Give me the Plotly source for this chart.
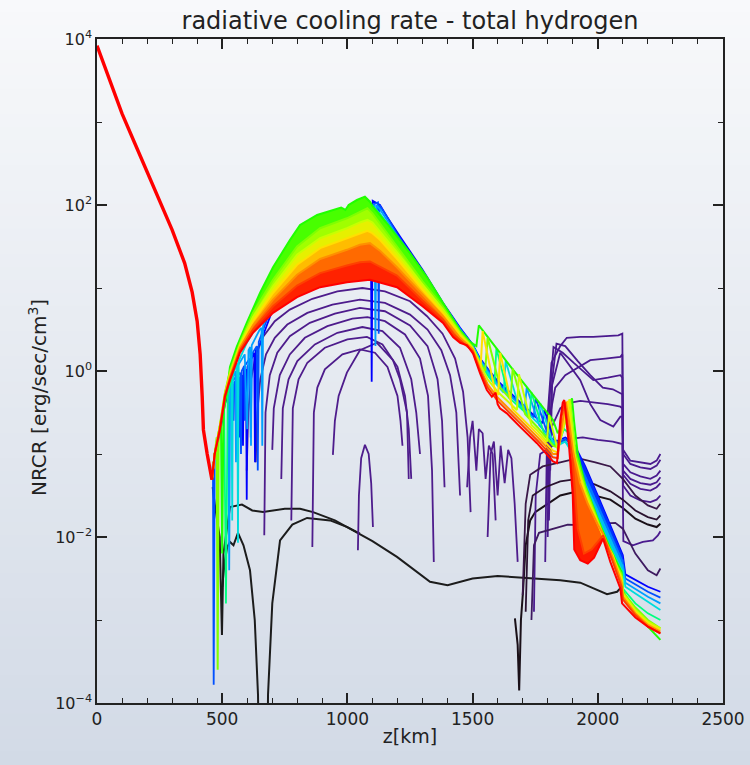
import numpy as np
import plotly.graph_objects as go

# ---------------------------------------------------------------------------
# NRCR profiles, stored as (height z [km], log10 NRCR [erg/sec/cm^3]) pairs
# ---------------------------------------------------------------------------

# steep decline that every snapshot shares below the temperature minimum
shared_z = [0, 50, 100, 150, 200, 250, 300, 350, 380, 400, 412, 420, 425, 440, 452, 459]
shared_lg = [3.92, 3.5, 3.1, 2.75, 2.4, 2.05, 1.7, 1.3, 0.95, 0.6, 0.2, -0.3, -0.71, -1.0, -1.2, -1.31]

# rainbow-coloured snapshots (blue = early, red = late)
snap00_z = [459, 470, 491, 511, 531, 542, 545, 548, 560, 565, 568, 571, 580, 583, 586, 595, 598, 601, 628, 631,
            634, 650, 703, 799, 891, 998, 1050, 1080, 1093, 1097, 1101, 1130, 1158, 1210, 1300, 1382, 1450, 1500,
            1530, 1560, 1600, 1650, 1700, 1778, 1786, 1830, 1840, 1870, 1900, 1950, 2000, 2050, 2100, 2110, 2150,
            2200, 2250]
snap00_lg = [-1.31, -1.0, -0.75, -0.4, -0.2, -0.16, -0.6, -0.14, -0.1, -0.09, -0.8, -0.08, -0.05, -0.9, 0.0, 0.02,
             -1.55, 0.05, 0.22, -1.1, 0.25, 0.32, 0.75, 1.15, 1.4, 1.55, 1.62, 1.8, 2.02, -0.13, 2.05, 2.0, 1.86,
             1.62, 1.22, 0.82, 0.52, 0.32, 0.15, 0.03, -0.12, -0.26, -0.4, -0.63, -0.47, -0.84, -0.84, -0.8, -0.85,
             -1.15, -1.5, -1.85, -2.22, -2.45, -2.52, -2.6, -2.66]

snap01_z = [459, 463, 466, 470, 491, 511, 531, 560, 572, 575, 578, 588, 590, 592, 600, 610, 614, 618, 638, 642, 646,
            703, 799, 891, 998, 1050, 1080, 1100, 1122, 1125, 1128, 1160, 1198, 1300, 1382, 1450, 1500, 1530, 1560,
            1600, 1650, 1700, 1744, 1752, 1802, 1821, 1840, 1870, 1900, 1950, 2000, 2050, 2100, 2110, 2150, 2200,
            2250]
snap01_lg = [-1.31, -1.1, -3.78, -1.0, -0.72, -0.35, -0.15, -0.05, -0.02, -1.0, 0.0, 0.06, -0.6, 0.07, 0.1, 0.15,
             -0.8, 0.2, 0.3, -1.2, 0.35, 0.82, 1.22, 1.45, 1.58, 1.66, 1.78, 2.0, 2.03, 0.45, 2.0, 1.85, 1.65, 1.2,
             0.81, 0.51, 0.32, 0.14, 0.02, -0.14, -0.28, -0.42, -0.56, -0.33, -0.78, -0.82, -0.86, -0.82, -0.9,
             -1.24, -1.58, -1.93, -2.28, -2.5, -2.57, -2.66, -2.73]

snap02_z = [459, 470, 491, 511, 524, 528, 532, 552, 555, 558, 560, 590, 600, 605, 612, 615, 618, 650, 657, 660, 663,
            703, 799, 891, 998, 1050, 1080, 1100, 1108, 1112, 1116, 1130, 1198, 1300, 1382, 1450, 1500, 1530, 1560,
            1600, 1650, 1708, 1716, 1766, 1821, 1840, 1870, 1900, 1950, 2000, 2050, 2100, 2110, 2150, 2200, 2250]
snap02_lg = [-1.31, -1.0, -0.7, -0.33, -0.2, -2.4, -0.15, 0.0, -1.1, 0.04, 0.05, 0.2, -0.7, 0.25, 0.29, -0.9, 0.31,
             0.5, 0.52, -0.9, 0.54, 0.9, 1.28, 1.5, 1.63, 1.7, 1.8, 1.98, 2.0, 0.3, 2.0, 1.95, 1.63, 1.18, 0.8, 0.5,
             0.31, 0.13, 0.0, -0.16, -0.3, -0.46, -0.2, -0.65, -0.84, -0.88, -0.85, -0.95, -1.33, -1.66, -2.01,
             -2.34, -2.55, -2.63, -2.72, -2.8]

snap03_z = [459, 470, 491, 511, 530, 537, 540, 543, 560, 563, 566, 600, 650, 703, 799, 891, 998, 1050, 1080, 1095,
            1100, 1130, 1198, 1300, 1382, 1450, 1500, 1530, 1560, 1600, 1624, 1632, 1682, 1700, 1762, 1770, 1820,
            1840, 1870, 1900, 1950, 2000, 2050, 2100, 2110, 2150, 2200, 2250]
snap03_lg = [-1.31, -1.0, -0.69, -0.31, -0.12, -0.1, -1.8, -0.05, 0.1, -2.07, 0.12, 0.35, 0.6, 0.95, 1.33, 1.55,
             1.68, 1.74, 1.82, 1.95, 1.98, 1.9, 1.61, 1.15, 0.8, 0.49, 0.3, 0.12, -0.02, -0.18, -0.26, 0.12, -0.4,
             -0.45, -0.63, -0.39, -0.86, -0.9, -0.85, -1.0, -1.42, -1.74, -2.09, -2.4, -2.6, -2.68, -2.78, -2.88]

snap04_z = [459, 470, 491, 508, 515, 522, 540, 571, 623, 703, 799, 891, 998, 1050, 1080, 1100, 1130, 1198, 1300,
            1382, 1450, 1500, 1530, 1560, 1587, 1595, 1645, 1700, 1727, 1735, 1785, 1821, 1840, 1865, 1885, 1900,
            1950, 2000, 2050, 2095, 2100, 2150, 2200, 2250]
snap04_lg = [-1.31, -1.0, -0.68, -0.45, -2.8, -0.3, -0.05, 0.3, 0.62, 1.0, 1.38, 1.6, 1.73, 1.8, 1.86, 1.92, 1.86,
             1.58, 1.12, 0.79, 0.48, 0.3, 0.1, -0.05, -0.16, 0.27, -0.32, -0.47, -0.56, -0.26, -0.75, -0.88, -0.9,
             -0.7, -0.75, -1.0, -1.45, -1.8, -2.12, -2.42, -2.62, -2.8, -2.92, -3.0]

snap05_z = [459, 470, 485, 495, 500, 505, 518, 531, 558, 598, 651, 703, 771, 811, 879, 942, 975, 992, 1005, 1038,
            1070, 1090, 1102, 1158, 1210, 1250, 1318, 1382, 1450, 1490, 1515, 1525, 1560, 1600, 1650, 1700, 1760,
            1821, 1840, 1870, 1897, 1905, 1920, 1950, 2000, 2050, 2095, 2100, 2150, 2200, 2250]
snap05_lg = [-1.31, -1.0, -0.75, -0.6, -2.2, -0.5, -0.27, 0.05, 0.29, 0.58, 0.94, 1.25, 1.58, 1.76, 1.88, 1.94,
             1.97, 1.94, 2.0, 2.06, 2.1, 2.04, 1.98, 1.78, 1.58, 1.42, 1.13, 0.82, 0.49, 0.35, 0.3, 0.55, 0.41,
             0.25, 0.06, -0.13, -0.36, -0.59, -0.75, -0.6, -0.33, -0.6, -1.0, -1.38, -1.78, -2.15, -2.42, -2.65,
             -2.9, -3.08, -3.24]

snap06_z = [459, 470, 478, 482, 486, 491, 511, 531, 571, 623, 703, 799, 891, 998, 1050, 1080, 1100, 1130, 1198,
            1300, 1382, 1450, 1500, 1530, 1550, 1560, 1610, 1652, 1660, 1710, 1760, 1821, 1840, 1870, 1890, 1898,
            1912, 1950, 2000, 2050, 2095, 2100, 2150, 2200, 2250]
snap06_lg = [-1.31, -1.0, -0.8, -3.6, -0.75, -0.65, -0.26, 0.0, 0.34, 0.7, 1.1, 1.5, 1.72, 1.84, 1.92, 1.96, 1.9,
             1.78, 1.5, 1.08, 0.77, 0.47, 0.29, 0.1, 0.0, 0.4, -0.2, -0.34, 0.03, -0.52, -0.68, -0.9, -0.92, -0.6,
             -0.34, -0.6, -1.0, -1.4, -1.8, -2.2, -2.45, -2.66, -2.85, -3.0, -3.1]

snap07_z = [459, 470, 491, 511, 531, 571, 623, 703, 799, 891, 998, 1050, 1080, 1100, 1130, 1198, 1300, 1382, 1450,
            1500, 1530, 1560, 1600, 1650, 1677, 1685, 1735, 1760, 1797, 1805, 1840, 1870, 1887, 1895, 1910, 1950,
            2000, 2050, 2095, 2100, 2150, 2200, 2250]
snap07_lg = [-1.31, -1.0, -0.66, -0.27, -0.03, 0.32, 0.65, 1.02, 1.4, 1.6, 1.72, 1.79, 1.82, 1.79, 1.68, 1.43,
             1.04, 0.74, 0.45, 0.28, 0.08, -0.1, -0.25, -0.4, -0.47, -0.04, -0.65, -0.72, -0.85, -0.53, -0.95,
             -0.6, -0.34, -0.6, -1.05, -1.45, -1.82, -2.22, -2.48, -2.68, -2.88, -3.02, -3.1]

snap08_z = [459, 470, 491, 511, 531, 571, 623, 703, 799, 891, 998, 1050, 1080, 1100, 1130, 1198, 1300, 1382, 1450,
            1500, 1532, 1540, 1590, 1602, 1610, 1660, 1700, 1760, 1821, 1840, 1865, 1880, 1890, 1905, 1950, 2000,
            2030, 2060, 2095, 2100, 2150, 2200, 2250]
snap08_lg = [-1.31, -1.0, -0.67, -0.28, -0.05, 0.3, 0.6, 0.94, 1.28, 1.48, 1.6, 1.66, 1.69, 1.66, 1.58, 1.35,
             0.98, 0.7, 0.43, 0.27, 0.05, 0.48, -0.25, -0.29, 0.22, -0.46, -0.58, -0.76, -0.96, -0.98, -0.6, -0.36,
             -0.6, -1.0, -1.5, -1.85, -2.05, -2.22, -2.52, -2.7, -2.9, -3.04, -3.12]

snap09_z = [459, 470, 491, 511, 531, 571, 623, 703, 799, 891, 998, 1050, 1090, 1130, 1198, 1300, 1382, 1450, 1500,
            1530, 1560, 1600, 1650, 1700, 1760, 1821, 1840, 1860, 1872, 1885, 1900, 1929, 1960, 2000, 2021, 2060,
            2095, 2100, 2150, 2200, 2250]
snap09_lg = [-1.31, -1.0, -0.68, -0.29, -0.07, 0.28, 0.55, 0.86, 1.16, 1.35, 1.46, 1.52, 1.54, 1.45, 1.25, 0.92,
             0.66, 0.4, 0.26, 0.03, -0.16, -0.32, -0.47, -0.62, -0.8, -1.0, -1.0, -0.6, -0.37, -0.6, -0.95, -1.35,
             -1.6, -1.85, -1.96, -2.25, -2.55, -2.72, -2.92, -3.06, -3.14]

snap10_z = [459, 470, 491, 511, 531, 571, 623, 703, 799, 891, 998, 1050, 1090, 1198, 1300, 1382, 1422, 1450, 1500,
            1530, 1560, 1600, 1640, 1700, 1760, 1821, 1840, 1855, 1868, 1878, 1900, 1920, 1945, 1975, 2021, 2060,
            2095, 2100, 2150, 2200, 2250]
snap10_lg = [-1.31, -1.0, -0.69, -0.3, -0.09, 0.25, 0.5, 0.78, 1.03, 1.18, 1.27, 1.31, 1.32, 1.15, 0.85, 0.62,
             0.45, 0.37, 0.24, 0.0, -0.2, -0.36, -0.48, -0.66, -0.84, -1.04, -1.05, -0.55, -0.38, -0.6, -1.1, -1.9,
             -2.2, -2.15, -1.98, -2.3, -2.6, -2.75, -2.94, -3.08, -3.16]

snap11_z = [459, 470, 491, 511, 531, 571, 623, 703, 799, 891, 998, 1090, 1198, 1300, 1382, 1422, 1450, 1478, 1502,
            1530, 1557, 1577, 1592, 1600, 1609, 1637, 1689, 1757, 1821, 1837, 1850, 1860, 1866, 1873, 1885, 1900,
            1906, 1930, 1960, 1985, 2021, 2050, 2090, 2097, 2150, 2200, 2250]
snap11_lg = [-1.31, -1.0, -0.71, -0.31, -0.11, 0.22, 0.46, 0.70, 0.89, 1.01, 1.07, 1.10, 1.01, 0.78, 0.58, 0.41,
             0.34, 0.31, 0.21, -0.03, -0.23, -0.31, -0.26, -0.4, -0.45, -0.51, -0.67, -0.87, -1.09, -1.11, -0.6,
             -0.38, -0.35, -0.55, -0.9, -1.5, -2.15, -2.28, -2.32, -2.25, -2.02, -2.3, -2.62, -2.8, -2.97, -3.08,
             -3.16]

snap_colors = ["#0000ff", "#0050ff", "#00a0ff", "#00dcdc", "#00ff80", "#20ff00",
               "#80ff00", "#c8ff00", "#ffe000", "#ff9000", "#ff4000", "#ff0000"]

# early snapshots (black): initial atmosphere
init_a_z = [462, 470, 490, 499, 505, 520, 531, 579, 620, 663, 750, 811, 863, 950, 1022, 1100, 1198, 1330, 1400,
            1500, 1600, 1730, 1850, 1930, 1997, 2037, 2077, 2095]
init_a_lg = [-1.4, -1.6, -2.0, -3.18, -2.2, -1.85, -1.64, -1.61, -1.68, -1.70, -1.66, -1.66, -1.70, -1.8, -1.92,
             -2.05, -2.24, -2.54, -2.58, -2.5, -2.47, -2.5, -2.52, -2.55, -2.64, -2.69, -2.66, -2.6]
init_b_z = [500, 510, 520, 531, 545, 563, 585, 611, 630, 643, 648, 680, 683, 700, 731, 780, 839, 931, 1000, 1050]
init_b_lg = [-2.6, -2.3, -2.12, -2.06, -2.1, -1.95, -2.1, -2.4, -3.0, -3.9, -5.0, -5.0, -3.9, -2.8, -2.04, -1.85,
             -1.77, -1.8, -1.88, -1.96]
init_c_z = [1669, 1680, 1686, 1693, 1701, 1712, 1730, 1750, 1800, 1850, 1920, 1990, 2050, 2100, 2150, 2200, 2235, 2250]
init_c_lg = [-2.98, -3.3, -3.85, -3.0, -2.67, -2.1, -1.8, -1.7, -1.6, -1.5, -1.45, -1.5, -1.55, -1.65, -1.78, -1.85,
             -1.88, -1.84]

# early snapshots (purple): arches in the mid chromosphere
arch1_z = [598, 604, 615, 635, 665, 710, 770, 860, 960, 1060, 1150, 1250, 1318, 1380, 1430, 1462, 1480, 1492]
arch1_lg = [-1.2, -0.5, -0.1, 0.2, 0.42, 0.6, 0.74, 0.87, 0.96, 1.0, 0.96, 0.84, 0.66, 0.45, 0.15, -0.25, -0.8, -1.7]
arch2_z = [634, 640, 652, 675, 710, 760, 840, 940, 1050, 1150, 1250, 1320, 1375, 1410, 1435, 1450]
arch2_lg = [-1.1, -0.5, -0.1, 0.2, 0.4, 0.56, 0.7, 0.8, 0.86, 0.82, 0.68, 0.5, 0.25, -0.05, -0.5, -1.5]
arch3_z = [668, 673, 690, 720, 770, 850, 950, 1050, 1150, 1250, 1320, 1360, 1378, 1388]
arch3_lg = [-1.98, -0.5, -0.05, 0.22, 0.42, 0.58, 0.69, 0.76, 0.72, 0.55, 0.3, -0.1, -0.6, -1.4]
arch4_z = [700, 706, 730, 770, 830, 920, 1020, 1080, 1150, 1230, 1290, 1322, 1338, 1345]
arch4_lg = [-0.95, -0.45, -0.05, 0.2, 0.4, 0.54, 0.63, 0.65, 0.6, 0.44, 0.15, -0.3, -1.2, -2.3]
arch5_z = [736, 742, 765, 800, 870, 960, 1060, 1140, 1210, 1255, 1275, 1290]
arch5_lg = [-1.3, -0.45, -0.1, 0.12, 0.32, 0.46, 0.53, 0.48, 0.28, -0.1, -0.5, -1.0]
arch6_z = [776, 782, 805, 840, 910, 1000, 1078, 1140, 1200, 1230, 1245, 1255]
arch6_lg = [-1.8, -0.45, -0.1, 0.1, 0.28, 0.38, 0.41, 0.32, 0.05, -0.3, -0.7, -1.3]
arch7_z = [860, 866, 880, 910, 980, 1050, 1110, 1160, 1200, 1212, 1220]
arch7_lg = [-2.12, -0.5, -0.2, 0.02, 0.2, 0.26, 0.22, 0.05, -0.3, -0.6, -0.9]
arch8_z = [942, 950, 965, 998, 1050, 1118, 1182, 1210, 1238, 1245]
arch8_lg = [-1.01, -0.6, -0.3, -0.02, 0.25, 0.34, 0.13, -0.1, -0.5, -1.3]
arch9_z = [1042, 1046, 1055, 1070, 1085, 1095, 1102]
arch9_lg = [-2.16, -1.5, -1.05, -0.89, -1.0, -1.35, -1.88]
jag1_z = [1478, 1490, 1500, 1515, 1525, 1540, 1552, 1565, 1580, 1592]
jag1_lg = [-1.4, -0.8, -0.6, -1.2, -0.7, -0.75, -1.3, -0.9, -1.0, -1.8]
jag2_z = [1560, 1572, 1585, 1600, 1612, 1628, 1642, 1655, 1668, 1680]
jag2_lg = [-2.0, -1.0, -0.85, -1.5, -0.9, -1.35, -0.95, -1.05, -1.6, -2.3]

# early snapshots (purple): upper chromosphere / transition region
upper1_z = [1790, 1798, 1815, 1850, 1876, 1930, 1982, 2040, 2082, 2098, 2101, 2130, 2170, 2210, 2235, 2250]
upper1_lg = [-2.3, -0.6, 0.1, 0.3, 0.4, 0.41, 0.41, 0.42, 0.43, 0.45, -0.95, -1.08, -1.1, -1.12, -1.08, -1.0]
upper2_z = [1800, 1808, 1823, 1860, 1903, 1982, 2040, 2090, 2098, 2101, 2130, 2170, 2210, 2235, 2250]
upper2_lg = [-2.0, -0.3, 0.29, 0.22, 0.1, -0.11, -0.08, -0.05, -0.08, -1.0, -1.12, -1.16, -1.18, -1.14, -1.07]
upper3_z = [1805, 1815, 1850, 1890, 1930, 1970, 2010, 2062, 2090, 2098, 2101, 2130, 2170, 2210, 2235, 2250]
upper3_lg = [-1.8, -0.2, 0.22, 0.05, -0.11, -0.4, -0.59, -0.67, -0.55, -0.55, -1.12, -1.22, -1.27, -1.3, -1.26, -1.2]
upper4_z = [1795, 1805, 1830, 1870, 1903, 1970, 2030, 2090, 2098, 2101, 2130, 2170, 2210, 2235, 2250]
upper4_lg = [-1.6, -0.6, -0.2, -0.05, 0.01, 0.13, 0.15, 0.17, 0.2, -1.2, -1.3, -1.35, -1.37, -1.34, -1.28]
upper5_z = [1800, 1812, 1850, 1877, 1930, 1982, 2040, 2090, 2098, 2101, 2130, 2170, 2210, 2235, 2250]
upper5_lg = [-1.8, -0.7, -0.45, -0.39, -0.36, -0.38, -0.4, -0.43, -0.45, -1.25, -1.36, -1.42, -1.44, -1.4, -1.35]
upper6_z = [1810, 1818, 1835, 1870, 1920, 1970, 2020, 2060, 2098, 2101, 2130, 2170, 2210, 2235, 2250]
upper6_lg = [-1.2, -0.1, 0.33, 0.3, 0.12, -0.05, -0.2, -0.22, -0.28, -1.38, -1.5, -1.56, -1.58, -1.55, -1.5]
dark1_z = [1745, 1752, 1770, 1820, 1880, 1940, 2000, 2060, 2098, 2102, 2140, 2180, 2220, 2240, 2250]
dark1_lg = [-2.9, -1.5, -1.0, -0.9, -0.82, -0.8, -0.83, -0.85, -0.88, -2.05, -2.1, -2.06, -2.04, -1.98, -1.93]
dark2_z = [1700, 1712, 1730, 1780, 1850, 1920, 1990, 2050, 2100, 2150, 2200, 2235, 2250]
dark2_lg = [-2.7, -1.6, -1.25, -1.15, -1.1, -1.05, -1.1, -1.15, -1.3, -1.5, -1.62, -1.66, -1.6]
dark3_z = [1712, 1722, 1740, 1790, 1850, 1920, 1990, 2050, 2100, 2150, 2200, 2235, 2250]
dark3_lg = [-2.9, -1.8, -1.5, -1.4, -1.33, -1.3, -1.37, -1.45, -1.55, -1.68, -1.76, -1.79, -1.74]
dark4_z = [1735, 1745, 1765, 1820, 1880, 1950, 2010, 2070, 2100, 2150, 2200, 2235, 2250]
dark4_lg = [-3.0, -2.1, -1.95, -1.9, -1.85, -1.86, -1.84, -1.83, -1.9, -2.2, -2.4, -2.46, -2.38]

x_ticks = [0, 500, 1000, 1500, 2000, 2500]
x_minor = [100, 200, 300, 400, 600, 700, 800, 900, 1100, 1200, 1300, 1400, 1600, 1700, 1800, 1900,
           2100, 2200, 2300, 2400]
y_ticks = [1e-4, 1e-2, 1e0, 1e2, 1e4]
y_ticktext = ["10<sup>\u22124</sup>", "10<sup>\u22122</sup>", "10<sup>0</sup>", "10<sup>2</sup>", "10<sup>4</sup>"]
y_minor = [1e-3, 1e-1, 1e1, 1e3]


def nrcr(lg):
    return np.power(10.0, np.asarray(lg, dtype=float))


fig = go.Figure()


def add_line(z, lg, color, width):
    assert len(z) == len(lg)
    fig.add_trace(go.Scatter(x=z, y=nrcr(lg), mode="lines",
                             line=dict(color=color, width=width), hoverinfo="skip"))


def add_band(za, la, zb, lb, lo, hi, color):
    """Shade the area between two snapshots over lo <= z <= hi."""
    a = [(z, l) for z, l in zip(za, la) if lo <= z <= hi]
    b = [(z, l) for z, l in zip(zb, lb) if lo <= z <= hi][::-1]
    xs = [p[0] for p in a] + [p[0] for p in b]
    ys = [p[1] for p in a] + [p[1] for p in b]
    fig.add_trace(go.Scatter(x=xs, y=nrcr(ys), mode="lines", line=dict(width=0, color=color),
                             fill="toself", fillcolor=color, hoverinfo="skip"))


# purple / black early snapshots underneath
for z, lg, col in [(init_a_z, init_a_lg, "#1c1c1c"), (init_b_z, init_b_lg, "#1c1c1c"),
                   (init_c_z, init_c_lg, "#1a1018")]:
    add_line(z, lg, col, 2.0)

for z, lg in [(arch1_z, arch1_lg), (arch2_z, arch2_lg), (arch3_z, arch3_lg), (arch4_z, arch4_lg),
              (arch5_z, arch5_lg), (arch6_z, arch6_lg), (arch7_z, arch7_lg), (arch8_z, arch8_lg),
              (arch9_z, arch9_lg), (jag1_z, jag1_lg), (jag2_z, jag2_lg)]:
    add_line(z, lg, "#4e1c8c", 1.8)

for z, lg in [(upper1_z, upper1_lg), (upper2_z, upper2_lg), (upper3_z, upper3_lg),
              (upper4_z, upper4_lg), (upper5_z, upper5_lg), (upper6_z, upper6_lg), (dark1_z, dark1_lg)]:
    add_line(z, lg, "#4a1a8e", 1.8)

for z, lg, col in [(dark2_z, dark2_lg, "#3a1848"), (dark3_z, dark3_lg, "#2a1230"), (dark4_z, dark4_lg, "#3e1a60")]:
    add_line(z, lg, col, 1.8)

snaps = [(snap00_z, snap00_lg), (snap01_z, snap01_lg), (snap02_z, snap02_lg), (snap03_z, snap03_lg),
         (snap04_z, snap04_lg), (snap05_z, snap05_lg), (snap06_z, snap06_lg), (snap07_z, snap07_lg),
         (snap08_z, snap08_lg), (snap09_z, snap09_lg), (snap10_z, snap10_lg), (snap11_z, snap11_lg)]

# early (blue/cyan) snapshots first
for (z, lg), col in zip(snaps[:5], snap_colors[:5]):
    add_line(z, lg, col, 1.8)

# densely packed snapshots read as continuous colour bands
band_cols = ["#0030ff", "#0078ff", "#00c0f0"]
for i, col in enumerate(band_cols):
    add_band(*snaps[i], *snaps[i + 1], 1900, 2100, col)
hump_cols = ["#48ff00", "#a0ff00", "#e6f000", "#ffbc00", "#ff6a00", "#ff2200"]
for i, col in enumerate(hump_cols):
    add_band(*snaps[5 + i], *snaps[6 + i], 531, 1500, col)
add_band(*snaps[9], *snaps[10], 1885, 2021, "#ff6000")
add_band(*snaps[10], *snaps[11], 1885, 2021, "#ff1800")

# later snapshots on top, red last
for (z, lg), col in zip(snaps[5:], snap_colors[5:]):
    add_line(z, lg, col, 2.0)

add_line(shared_z, shared_lg, "#ff0000", 3.4)

# page background: soft vertical gradient from near-white to pale blue-grey
n_strips = 60
top_rgb = np.array([248, 249, 251])
bot_rgb = np.array([210, 218, 230])
y_top = 1 + 39 / 664
y_bot = -62 / 664
shapes = []
for i in range(n_strips):
    f = (i + 0.5) / n_strips
    c = top_rgb + (bot_rgb - top_rgb) * f
    y1 = y_top - (y_top - y_bot) * i / n_strips
    y0 = y_top - (y_top - y_bot) * (i + 1) / n_strips
    shapes.append(dict(type="rect", xref="paper", yref="paper", layer="below",
                       x0=-97 / 626 - 0.01, x1=1 + 27 / 626 + 0.01, y0=y0 - 0.001, y1=y1 + 0.001,
                       line=dict(width=0),
                       fillcolor="rgb(%d,%d,%d)" % tuple(int(round(v)) for v in c)))

axis_col = "#222222"
fig.update_layout(
    width=750, height=765,
    margin=dict(l=97, r=27, t=39, b=62, autoexpand=False),
    paper_bgcolor="#e9edf2", plot_bgcolor="rgba(0,0,0,0)",
    showlegend=False,
    shapes=shapes,
    font=dict(family="DejaVu Sans", size=16, color=axis_col),
    title=dict(text="radiative cooling rate - total hydrogen", x=410 / 750, xanchor="center",
               y=1 - 21 / 765, yanchor="middle", font=dict(size=24, color=axis_col)),
    annotations=[dict(text="NRCR [erg/sec/cm<sup>3</sup>]", textangle=-90, showarrow=False,
                      xref="paper", yref="paper", x=(38 - 97) / 626, y=(703 - 398) / 664,
                      xanchor="center", yanchor="middle", font=dict(size=20, color=axis_col))],
)
fig.update_xaxes(
    range=[0, 2500], tickmode="array", tickvals=x_ticks, ticks="inside", ticklen=10, tickwidth=1.5,
    tickcolor=axis_col, showline=True, linecolor=axis_col, linewidth=1.5, mirror="ticks",
    showgrid=False, zeroline=False, tickfont=dict(size=17), automargin=False,
    minor=dict(tickmode="array", tickvals=x_minor, ticks="inside", ticklen=5, tickwidth=1.2,
               tickcolor=axis_col, showgrid=False),
    title=dict(text="z[km]", standoff=2, font=dict(size=19)),
)
fig.update_yaxes(
    type="log", range=[-4, 4], tickmode="array", tickvals=y_ticks, ticktext=y_ticktext,
    ticks="inside", ticklen=10, tickwidth=1.5, tickcolor=axis_col, showline=True, linecolor=axis_col,
    linewidth=1.5, mirror="ticks", showgrid=False, zeroline=False, tickfont=dict(size=16), automargin=False,
    minor=dict(tickmode="array", tickvals=y_minor, ticks="inside", ticklen=5, tickwidth=1.2,
               tickcolor=axis_col, showgrid=False),
)

fig.write_html("out.html")
